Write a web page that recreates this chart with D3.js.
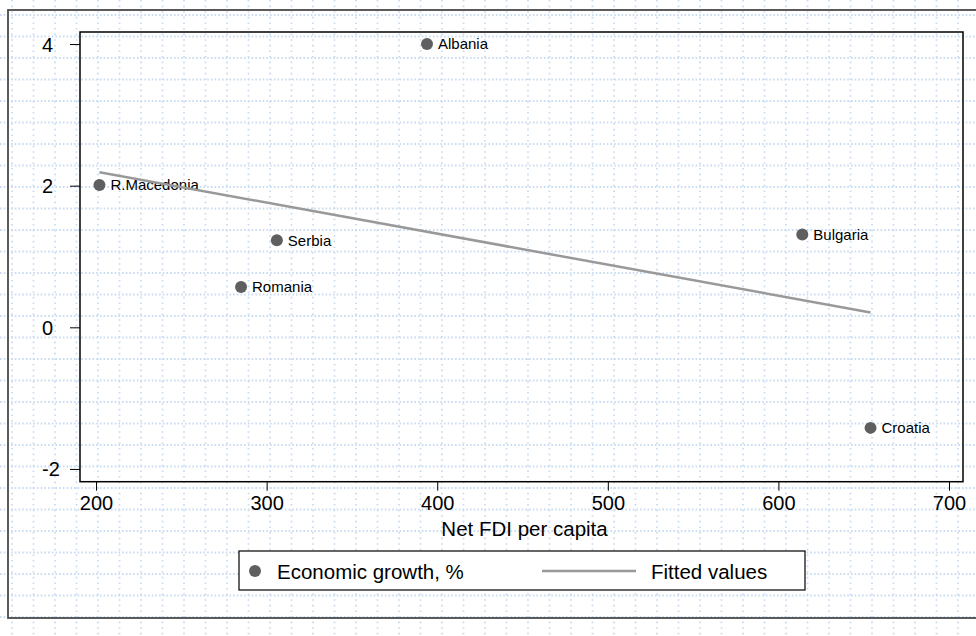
<!DOCTYPE html>
<html>
<head>
<meta charset="utf-8">
<script src="https://cdn.jsdelivr.net/npm/d3@7"></script>
<style>
  html, body { margin: 0; padding: 0; background: #ffffff; }
  svg { display: block; font-family: "Liberation Sans", Arial, Helvetica, sans-serif; }
</style>
</head>
<body>
<svg id="chart" width="976" height="636"></svg>
<script>
// ---- data ----
const countries = ["Albania", "R.Macedonia", "Serbia", "Romania", "Bulgaria", "Croatia"];
const fdiPerCapita = [394, 202, 306, 285, 614, 654];
const growth = [4.0, 2.01, 1.23, 0.57, 1.31, -1.42];
const fittedX = [202, 654];
const fittedY = [2.19, 0.21];
const xTicks = [200, 300, 400, 500, 600, 700];
const yTicks = [-2, 0, 2, 4];
const xTitle = "Net FDI per capita";
const legendLabels = ["Economic growth, %", "Fitted values"];

const W = 976, H = 636;
const svg = d3.select("#chart");

// background dotted grid
const bg = svg.append("g");
const step = 21.5;
d3.range(15, H, step).forEach(yy => {
  bg.append("line").attr("x1", 0).attr("x2", W).attr("y1", yy).attr("y2", yy)
    .attr("stroke", "#cadcf1").attr("stroke-width", 1.8).attr("stroke-dasharray", "1.6,2.1");
});
d3.range(12, W, step).forEach(xx => {
  bg.append("line").attr("y1", 0).attr("y2", H).attr("x1", xx).attr("x2", xx)
    .attr("stroke", "#cadcf1").attr("stroke-width", 1.8).attr("stroke-dasharray", "1.6,4.0");
});

// outer frame
svg.append("rect").attr("x", 8).attr("y", 10).attr("width", 1000).attr("height", 608)
  .attr("fill", "none").attr("stroke", "#4a4a4a").attr("stroke-width", 1.8);

const L = 80, R = 963, T = 32, B = 481.7;
const x = d3.scaleLinear().domain([190.6, 708.2]).range([L, R]);
const y = d3.scaleLinear().domain([-2.18, 4.17]).range([B, T]);
const fmt = d => String(d);

// axes
const yAxis = svg.append("g").attr("transform", `translate(${L},0)`)
  .call(d3.axisLeft(y).tickValues(yTicks).tickSize(10).tickFormat(fmt));
yAxis.select(".domain").remove();
yAxis.selectAll(".tick line").attr("stroke", "#000");
yAxis.selectAll("text").attr("x", -38).attr("text-anchor", "start")
  .attr("font-size", 20).attr("fill", "#000").attr("dy", "0.35em")
  .attr("font-family", "Liberation Sans, Arial, sans-serif");

const xAxis = svg.append("g").attr("transform", `translate(0,${B})`)
  .call(d3.axisBottom(x).tickValues(xTicks).tickSize(9).tickPadding(5).tickFormat(fmt));
xAxis.select(".domain").remove();
xAxis.selectAll(".tick line").attr("stroke", "#000");
xAxis.selectAll("text").attr("font-size", 20).attr("fill", "#000")
  .attr("font-family", "Liberation Sans, Arial, sans-serif");

// plot frame
svg.append("rect").attr("x", L).attr("y", T).attr("width", R - L).attr("height", B - T)
  .attr("fill", "none").attr("stroke", "#000").attr("stroke-width", 1.5);

// axis title
svg.append("text").attr("x", (x(400) + x(500)) / 2 + 2).attr("y", 536)
  .attr("text-anchor", "middle").attr("font-size", 20.5).attr("fill", "#000").text(xTitle);

// points
const pts = countries.map((c, i) => ({ c, x: fdiPerCapita[i], y: growth[i] }));
svg.append("g").selectAll("circle").data(pts).join("circle")
  .attr("cx", d => x(d.x)).attr("cy", d => y(d.y)).attr("r", 6)
  .attr("fill", "#5f5f5f");
svg.append("g").selectAll("text").data(pts).join("text")
  .attr("x", d => x(d.x) + 11).attr("y", d => y(d.y)).attr("dy", "0.36em")
  .attr("font-size", 15).attr("fill", "#000").text(d => d.c);

// fitted line
const fit = fittedX.map((v, i) => [v, fittedY[i]]);
svg.append("path").datum(fit)
  .attr("d", d3.line().x(d => x(d[0])).y(d => y(d[1])))
  .attr("fill", "none").attr("stroke", "#999999").attr("stroke-width", 2.5);

// legend
const lg = svg.append("g");
lg.append("rect").attr("x", 239).attr("y", 551).attr("width", 566).attr("height", 39)
  .attr("fill", "#fff").attr("stroke", "#000").attr("stroke-width", 1.2);
lg.append("circle").attr("cx", 255).attr("cy", 571).attr("r", 6).attr("fill", "#5f5f5f");
lg.append("text").attr("x", 277).attr("y", 579).attr("font-size", 20.5).attr("fill", "#000").text(legendLabels[0]);
lg.append("line").attr("x1", 542).attr("x2", 636).attr("y1", 571).attr("y2", 571)
  .attr("stroke", "#999999").attr("stroke-width", 2.5);
lg.append("text").attr("x", 651).attr("y", 579).attr("font-size", 20.5).attr("fill", "#000").text(legendLabels[1]);
</script>
</body>
</html>
